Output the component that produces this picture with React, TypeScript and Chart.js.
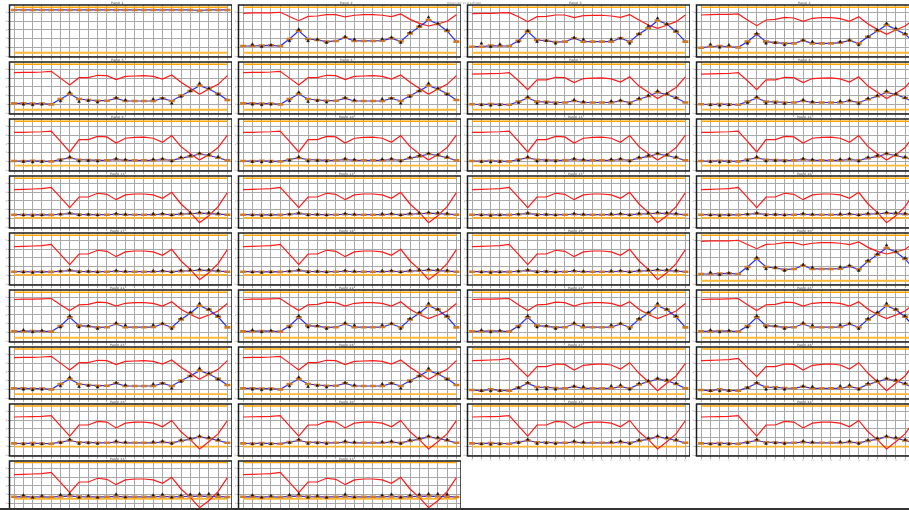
import React, { useEffect, useRef } from 'react';
import { Chart, registerables } from 'chart.js';
Chart.register(...registerables);

const LABELS = ['1','2','3','4','5','6','7','8','9','10','11','12','13','14','15','16','17','18','19','20','21','22','23','24'];
const Y_TICKS = [0, 1, 2, 3, 4, 5];
const SUPTITLE = 'Observed vs predicted';

// ---- series profiles ----
const RED_TOP = [null,null,null,null,null,null,null,null,null,null,null,null,null,null,null,null,null,null,null,null,null,null,null,null];
const BLUE_TOP = [5.26,5.26,5.26,5.26,5.26,5.26,5.26,5.26,5.26,5.26,5.26,5.26,5.26,5.26,5.26,5.26,5.26,5.26,5.26,5.26,5.2,5.26,5.26,5.26];
const BLACK_TOP = RED_TOP;

const RED_A1 = [4.88,4.92,4.92,4.92,5.00,4.52,4.05,4.54,4.58,4.73,4.73,4.47,4.66,4.73,4.73,4.66,4.50,4.81,4.20,3.75,3.45,3.68,3.98,4.73];
const BLUE_A1 = [1.19,1.19,1.23,1.27,1.19,1.98,2.92,1.98,1.87,1.68,1.76,2.13,1.76,1.76,1.76,1.79,2.06,1.72,2.62,3.37,4.13,3.68,2.89,1.68];
const BLACK_A1 = [null,1.38,1.10,1.30,null,1.76,3.07,1.76,1.94,1.57,null,2.24,1.94,null,null,1.98,2.17,1.57,2.73,3.45,4.43,3.75,3.00,null];

const RED_A2 = [4.84,4.88,4.88,4.92,4.96,4.50,3.94,4.50,4.54,4.69,4.69,4.39,4.62,4.66,4.66,4.58,4.43,4.73,4.13,3.56,3.19,3.53,3.94,4.69];
const BLUE_A2 = [1.11,1.11,1.23,1.19,1.19,1.79,2.81,1.87,1.79,1.64,1.68,2.06,1.68,1.68,1.68,1.68,2.06,1.68,2.55,3.19,4.05,3.68,2.81,1.68];
const BLACK_A2 = [null,1.49,1.11,1.38,null,1.68,2.92,1.68,1.79,1.49,null,2.13,1.94,null,null,1.94,2.06,1.49,2.55,3.45,4.32,3.68,2.89,null];

const RED_A3 = [4.69,4.73,4.77,4.77,4.81,4.13,3.49,4.13,4.20,4.43,4.35,3.98,4.32,4.39,4.39,4.28,3.98,4.50,3.68,3.07,2.51,3.00,3.45,4.20];
const BLUE_A3 = [1.00,1.11,1.19,1.11,1.04,1.68,2.51,1.68,1.57,1.49,1.49,1.79,1.49,1.49,1.49,1.57,1.79,1.49,2.24,2.89,3.56,3.07,2.51,1.60];
const BLACK_A3 = [null,1.38,1.04,1.30,null,1.49,2.62,1.49,1.57,1.30,null,1.87,1.68,null,null,1.68,1.87,1.30,2.24,3.00,3.75,3.19,2.60,null];

const RED_B = [4.62,4.66,4.66,4.69,4.77,4.00,3.22,4.05,4.05,4.32,4.28,3.83,4.20,4.24,4.28,4.20,3.90,4.36,3.53,2.85,2.17,2.77,3.30,4.28];
const BLUE_B = [1.15,1.15,1.12,1.12,1.04,1.64,2.20,1.64,1.53,1.45,1.45,1.72,1.42,1.42,1.42,1.42,1.72,1.42,2.02,2.55,3.15,2.77,2.24,1.53];
const BLACK_B = [null,1.04,0.97,1.04,null,1.42,2.40,1.34,1.45,1.27,null,1.79,1.53,null,null,1.64,1.72,1.15,1.91,2.55,3.41,2.85,2.17,null];

const RED_C = [4.45,4.48,4.50,4.52,4.62,3.70,2.70,3.80,3.80,4.10,4.05,3.50,3.95,4.00,4.02,3.92,3.55,4.15,3.10,2.40,1.70,2.30,2.95,4.15];
const BLUE_C = [1.05,1.02,1.06,1.03,1.00,1.35,1.75,1.35,1.32,1.25,1.25,1.42,1.25,1.25,1.25,1.25,1.42,1.25,1.62,1.95,2.40,2.15,1.75,1.25];
const BLACK_C = [null,0.98,0.92,0.98,null,1.22,1.90,1.15,1.22,1.12,null,1.55,1.35,null,null,1.40,1.50,1.10,1.72,2.05,2.55,2.25,1.80,null];

const RED_D = [4.30,4.32,4.35,4.38,4.45,3.30,2.10,3.50,3.50,3.85,3.80,3.10,3.65,3.75,3.78,3.65,3.20,3.95,2.70,1.90,1.20,1.80,2.60,4.00];
const BLUE_D = [1.08,1.06,1.10,1.06,1.04,1.25,1.42,1.22,1.20,1.15,1.15,1.25,1.15,1.15,1.15,1.15,1.25,1.15,1.40,1.60,1.87,1.70,1.45,1.15];
const BLACK_D = [null,1.00,0.95,1.00,null,1.15,1.55,1.05,1.12,1.05,null,1.35,1.25,null,null,1.28,1.35,1.05,1.50,1.70,1.95,1.80,1.55,null];

const RED_E = [4.28,4.32,4.35,4.40,4.54,3.40,2.25,3.45,3.45,3.87,3.75,3.15,3.68,3.79,3.79,3.68,3.30,3.98,2.66,1.72,0.55,1.34,2.36,3.94];
const BLUE_E = [1.45,1.45,1.44,1.45,1.43,1.50,1.58,1.48,1.47,1.45,1.45,1.50,1.45,1.45,1.45,1.45,1.50,1.45,1.52,1.56,1.62,1.58,1.52,1.45];
const BLACK_E = [null,1.40,1.35,1.40,null,1.50,1.65,1.40,1.48,1.40,null,1.58,1.50,null,null,1.55,1.58,1.40,1.60,1.65,1.72,1.68,1.60,null];

const RED_F = [4.75,4.78,4.80,4.82,4.86,4.15,3.50,4.15,4.20,4.45,4.40,4.00,4.32,4.40,4.40,4.30,4.00,4.50,3.65,3.05,2.60,3.00,3.45,4.30];
const BLUE_F = [1.15,1.15,1.20,1.17,1.12,1.75,2.75,1.80,1.72,1.60,1.62,1.98,1.62,1.62,1.62,1.64,1.98,1.62,2.50,3.20,4.05,3.60,2.80,1.60];
const BLACK_F = [null,1.30,1.08,1.25,null,1.62,2.90,1.62,1.78,1.45,null,2.10,1.85,null,null,1.88,2.05,1.45,2.60,3.30,4.30,3.65,2.90,null];

const RED_G = [4.28,4.32,4.35,4.40,4.54,3.50,2.47,3.60,3.60,3.90,3.86,3.23,3.75,3.86,3.90,3.79,3.33,4.05,2.85,1.90,0.89,1.72,2.55,3.98];
const BLUE_G = [0.96,0.89,1.04,0.92,0.89,1.23,1.72,1.30,1.27,1.19,1.15,1.34,1.15,1.15,1.15,1.15,1.34,1.15,1.60,1.90,2.20,2.02,1.64,1.15];
const BLACK_G = [null,0.89,0.85,0.89,null,1.23,1.80,1.04,1.12,1.04,null,1.40,1.34,null,null,1.42,1.53,1.04,1.72,2.02,2.28,2.10,1.72,null];

const RED_H = [4.28,4.32,4.35,4.40,4.54,3.40,2.25,3.45,3.45,3.87,3.75,3.15,3.68,3.79,3.79,3.68,3.30,3.98,2.66,1.72,0.55,1.34,2.36,3.94];
const BLUE_H = [1.78,1.80,1.76,1.78,1.75,1.82,1.85,1.80,1.78,1.76,1.78,1.82,1.78,1.78,1.78,1.78,1.82,1.78,1.80,1.82,1.85,1.82,1.80,1.76];
const BLACK_H = [null,1.95,1.70,1.90,null,2.00,2.10,1.70,1.90,1.70,null,2.05,1.72,null,null,1.95,2.05,1.70,1.95,2.05,2.10,2.10,2.05,null];

const RED_I = [4.35,4.38,4.40,4.42,4.50,3.35,2.20,3.45,3.45,3.85,3.78,3.12,3.66,3.77,3.78,3.66,3.25,3.96,2.68,1.80,0.75,1.55,2.45,3.95];
const BLUE_I = [1.38,1.36,1.40,1.36,1.34,1.52,1.70,1.50,1.48,1.44,1.44,1.52,1.44,1.44,1.44,1.44,1.52,1.44,1.66,1.85,2.10,1.95,1.70,1.44];
const BLACK_I = [null,1.30,1.25,1.30,null,1.45,1.82,1.35,1.42,1.35,null,1.62,1.52,null,null,1.56,1.62,1.35,1.75,1.95,2.20,2.05,1.80,null];

const PROFILES: Record<string, { red: (number | null)[]; blue: number[]; black: (number | null)[] }> = {
  TOP: { red: RED_TOP, blue: BLUE_TOP, black: BLACK_TOP },
  A1: { red: RED_A1, blue: BLUE_A1, black: BLACK_A1 },
  A2: { red: RED_A2, blue: BLUE_A2, black: BLACK_A2 },
  A3: { red: RED_A3, blue: BLUE_A3, black: BLACK_A3 },
  B: { red: RED_B, blue: BLUE_B, black: BLACK_B },
  C: { red: RED_C, blue: BLUE_C, black: BLACK_C },
  D: { red: RED_D, blue: BLUE_D, black: BLACK_D },
  E: { red: RED_E, blue: BLUE_E, black: BLACK_E },
  F: { red: RED_F, blue: BLUE_F, black: BLACK_F },
  G: { red: RED_G, blue: BLUE_G, black: BLACK_G },
  H: { red: RED_H, blue: BLUE_H, black: BLACK_H },
  I: { red: RED_I, blue: BLUE_I, black: BLACK_I },
};

const PANEL_PROFILE = [
  'TOP','A1','A2','A3',
  'B','B','C','C',
  'D','D','D','D',
  'E','E','E','E',
  'E','E','E','A1',
  'F','F','F','F',
  'B','B','G','G',
  'I','I','I','I',
  'H','H',
];
const PANEL_UCL = [5.56,5.56,5.56,5.56, 5.56,5.56,5.56,5.56, 5.56,5.56,5.56,5.56, 5.56,5.56,5.56,5.56, 5.56,5.56,5.56,5.56, 5.56,5.56,5.56,5.56, 5.60,5.60,5.60,5.60, 5.60,5.60,5.60,5.60, 5.65,5.65];
const PANEL_LCL = [0.43,0.43,0.43,0.43, 0.43,0.43,0.45,0.45, 0.55,0.55,0.55,0.55, 1.10,1.10,1.10,1.10, 1.10,1.10,1.10,0.43, 0.43,0.43,0.43,0.43, 0.50,0.50,0.50,0.50, 1.00,1.00,1.00,1.00, 1.55,1.55];
const PANEL_TITLES = Array.from({ length: 34 }, (_, i) => 'Panel ' + (i + 1));

const framePlugin = {
  id: 'frameBox',
  afterDraw(chart: any) {
    const { ctx, chartArea } = chart;
    ctx.save();
    ctx.strokeStyle = '#1c1c1c';
    ctx.lineWidth = 1.5;
    ctx.strokeRect(chartArea.left, chartArea.top, chartArea.right - chartArea.left, chartArea.bottom - chartArea.top);
    ctx.restore();
  },
};

const CW = 230;
const CH = 64;

function Panel({ idx }: { idx: number }) {
  const ref = useRef<HTMLCanvasElement>(null);
  useEffect(() => {
    const p = PROFILES[PANEL_PROFILE[idx]];
    const ucl = PANEL_UCL[idx];
    const lcl = PANEL_LCL[idx];
    const chart = new Chart(ref.current as HTMLCanvasElement, {
      type: 'line',
      data: {
        labels: LABELS,
        datasets: [
          {
            label: 'observed', data: p.black as any, showLine: false,
            pointStyle: 'triangle', pointRadius: 1.6, pointBorderWidth: 0.5,
            pointBackgroundColor: '#111', pointBorderColor: '#111', borderColor: '#111',
          },
          {
            label: 'predicted', data: p.blue, borderColor: '#2b2bff', borderWidth: 1.2,
            pointStyle: 'line', pointRadius: 3, pointBorderWidth: 2.6,
            pointBorderColor: '#cf7a26', pointBackgroundColor: '#cf7a26',
          },
          { label: 'reference', data: p.red as any, borderColor: '#ff1a1a', borderWidth: 1.2, pointRadius: 0 },
          { label: 'upper', data: LABELS.map(() => ucl), borderColor: '#ffa500', borderWidth: 1.5, pointRadius: 0 },
          { label: 'lower', data: LABELS.map(() => lcl), borderColor: '#ffb733', borderWidth: 1.8, pointRadius: 0 },
        ],
      },
      options: {
        animation: false,
        responsive: false,
        devicePixelRatio: 1,
        events: [],
        layout: { autoPadding: false, padding: { left: 0.5, right: 0, top: 0, bottom: 0 } },
        plugins: {
          legend: { display: false },
          tooltip: { enabled: false },
          title: {
            display: true, text: PANEL_TITLES[idx], color: '#888',
            font: { size: 3, family: 'DejaVu Sans' }, padding: { top: 1, bottom: 0.4 },
          },
        },
        scales: {
          x: {
            offset: true,
            grid: { offset: false, color: '#a9a9a9', lineWidth: 1, tickLength: 3, drawTicks: true },
            border: { display: false },
            ticks: { font: { size: 2, family: 'DejaVu Sans' }, color: '#aaa', autoSkip: false, maxRotation: 0, minRotation: 0, padding: 0 },
            afterFit: (s: any) => { s.height = CH - 57; s.paddingLeft = 0; s.paddingRight = 0; },
          },
          y: {
            min: -0.05, max: 5.82,
            grid: { color: '#a9a9a9', lineWidth: 1, tickLength: 2 },
            border: { display: false },
            ticks: { font: { size: 2.5, family: 'DejaVu Sans' }, color: '#999', padding: 0.5 },
            afterBuildTicks: (s: any) => { s.ticks = Y_TICKS.map((v) => ({ value: v })); },
            afterFit: (s: any) => { s.width = 7; s.paddingTop = 0; s.paddingBottom = 0; },
          },
        },
      },
      plugins: [framePlugin],
    } as any);
    return () => chart.destroy();
  }, [idx]);
  const r = Math.floor(idx / 4);
  const c = idx % 4;
  return (
    <canvas
      ref={ref}
      width={CW}
      height={CH}
      style={{ position: 'absolute', left: 2 + 229 * c, top: 57 * r, width: CW, height: CH }}
    />
  );
}

export default function App() {
  return (
    <div style={{ position: 'fixed', left: 0, top: 0, width: 909, height: 510, overflow: 'hidden', background: '#fff' }}>
      {PANEL_PROFILE.map((_, i) => (
        <Panel key={i} idx={i} />
      ))}
      <div style={{ position: 'absolute', left: 0, width: 928, top: 0.5, textAlign: 'center', fontSize: 3, lineHeight: '4px', color: '#888', fontFamily: 'DejaVu Sans' }}>
        {SUPTITLE}
      </div>
      <div style={{ position: 'absolute', left: 0, top: 508, width: 909, height: 2, background: '#333' }} />
    </div>
  );
}
